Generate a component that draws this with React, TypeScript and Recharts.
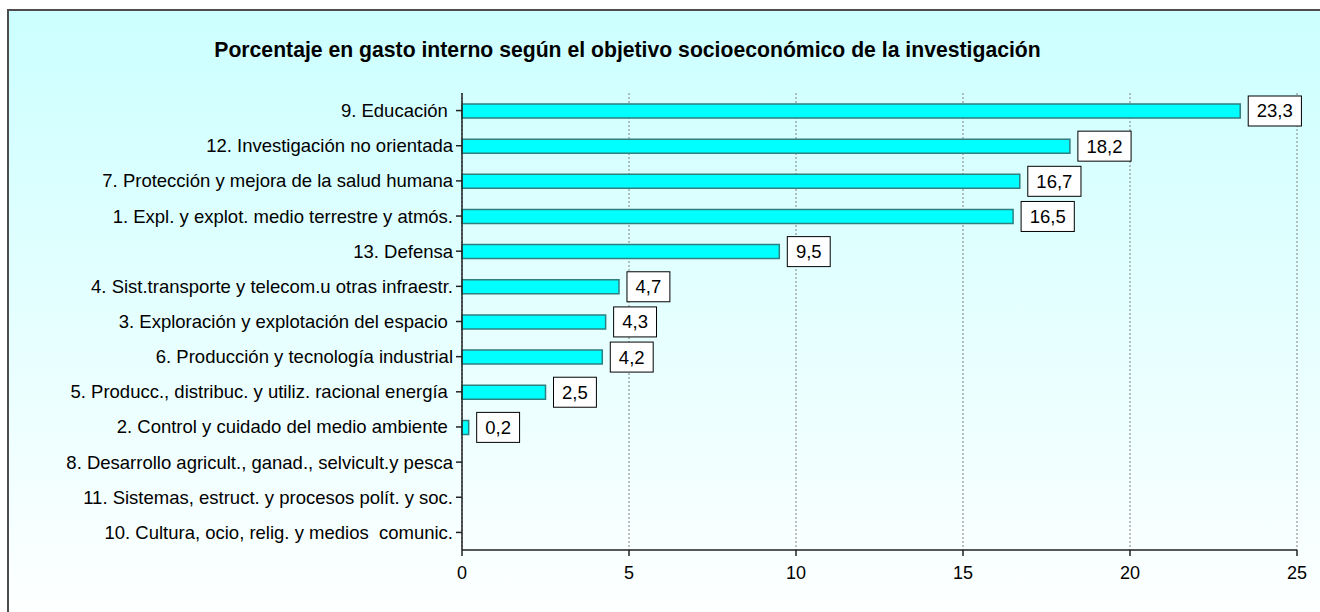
import { BarChart, Bar, XAxis, YAxis, CartesianGrid, LabelList } from 'recharts'

const categories = [
  '9. Educación ',
  '12. Investigación no orientada',
  '7. Protección y mejora de la salud humana',
  '1. Expl. y explot. medio terrestre y atmós.',
  '13. Defensa',
  '4. Sist.transporte y telecom.u otras infraestr.',
  '3. Exploración y explotación del espacio ',
  '6. Producción y tecnología industrial',
  '5. Producc., distribuc. y utiliz. racional energía ',
  '2. Control y cuidado del medio ambiente ',
  '8. Desarrollo agricult., ganad., selvicult.y pesca',
  '11. Sistemas, estruct. y procesos polít. y soc.',
  '10. Cultura, ocio, relig. y medios  comunic.',
]
const values = [23.3, 18.2, 16.7, 16.5, 9.5, 4.7, 4.3, 4.2, 2.5, 0.2, 0, 0, 0]
const xTicks = [0, 5, 10, 15, 20, 25]
const title = 'Porcentaje en gasto interno según el objetivo socioeconómico de la investigación'

const FONT = 'Arial, "Liberation Sans", sans-serif'

const data = categories.map((name, i) => ({ name, value: values[i] }))

function CategoryTick(props: any) {
  const { x, y, payload } = props
  return (
    <text x={x} y={y} dy="0.35em" textAnchor="end" fontSize={18.5} fontFamily={FONT} fill="#000" style={{ whiteSpace: 'pre' }}>
      {payload.value}
    </text>
  )
}

function ValueLabel(props: any) {
  const { x, y, width, height, value } = props
  if (!value) return null
  const text = String(value).replace('.', ',')
  const boxW = text.length * 10.3 + 12
  const bx = x + width + 8
  const cy = y + height / 2
  return (
    <g>
      <rect x={bx} y={cy - 15} width={boxW} height={30} fill="#fff" stroke="#000" strokeWidth={1} />
      <text x={bx + boxW / 2} y={cy} dy="0.35em" textAnchor="middle" fontSize={18.5} fontFamily={FONT} fill="#000">
        {text}
      </text>
    </g>
  )
}

export default function App() {
  return (
    <div style={{ position: 'absolute', left: 0, top: 0, width: 1320, height: 612, overflow: 'hidden', background: '#fff' }}>
      <div
        style={{
          position: 'absolute',
          left: 7,
          top: 9,
          width: 1330,
          height: 620,
          border: '2px solid #4d4d4d',
          background: 'linear-gradient(to bottom, #ccffff, #ffffff)',
        }}
      />
      <div
        style={{
          position: 'absolute',
          left: 0,
          top: 39,
          width: 1255,
          textAlign: 'center',
          fontFamily: FONT,
          fontWeight: 'bold',
          fontSize: 21.2,
          lineHeight: '21px',
          color: '#000',
          whiteSpace: 'nowrap',
        }}
      >
        {title}
      </div>
      <div style={{ position: 'absolute', left: 0, top: 0 }}>
        <BarChart
          width={1320}
          height={612}
          data={data}
          layout="vertical"
          barSize={14}
          margin={{ top: 93, right: 23, left: 0, bottom: 32 }}
        >
          <CartesianGrid horizontal={false} stroke="#808080" strokeDasharray="2 2" />
          <XAxis
            type="number"
            domain={[0, 25]}
            ticks={xTicks}
            interval={0}
            height={30}
            tickSize={6}
            tickMargin={10}
            stroke="#222"
            strokeWidth={1.5}
            tick={{ fontSize: 18, fontFamily: FONT, fill: '#000' }}
          />
          <YAxis
            type="category"
            dataKey="name"
            width={462}
            tickSize={6}
            tickMargin={3}
            stroke="#222"
            strokeWidth={1.5}
            interval={0}
            tick={<CategoryTick />}
          />
          <Bar dataKey="value" fill="#00ffff" stroke="#2f7f7f" strokeWidth={1.5} isAnimationActive={false}>
            <LabelList dataKey="value" content={<ValueLabel />} />
          </Bar>
        </BarChart>
      </div>
    </div>
  )
}
